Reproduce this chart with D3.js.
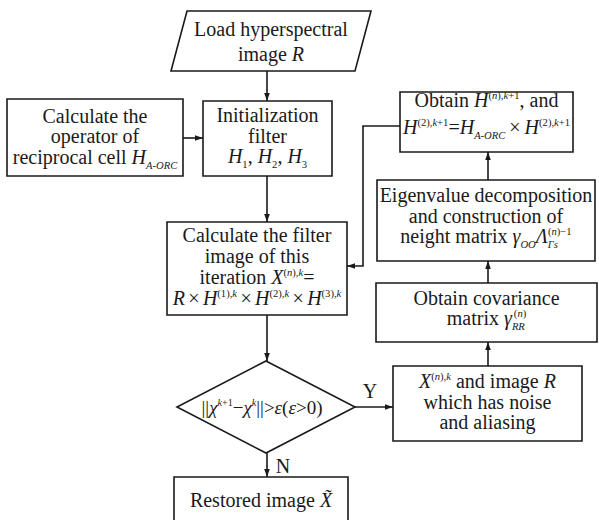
<!DOCTYPE html>
<html><head><meta charset="utf-8">
<script src="https://cdn.jsdelivr.net/npm/d3@7"></script>
<style>body{margin:0;background:#fff}svg{display:block}
text{font-family:"Liberation Serif","Times New Roman","DejaVu Serif",serif;}</style>
</head><body>
<svg id="c" width="599" height="520"></svg>
<script>
// ---- content (text segments: [text, type]; types n,i,^,^i,_,_i ; 3rd item = dx)
const nodeIds = ["load","operator","init","calc","decision","restored","xbox","cov","eigen","obtain"];
const nodeShapes = ["para","rect","rect","rect","diamond","rect","rect","rect","rect","rect"];
const nodeLabels = [
  [[["Load hyperspectral","n"]],[["image ","n"],["R","i"]]],
  [[["Calculate the","n"]],[["operator of","n"]],[["reciprocal cell ","n"],["H","i"],["A-ORC","_i"]]],
  [[["Initialization","n"]],[["filter","n"]],[["H","i"],["1","_"],[", ","n"],["H","i"],["2","_"],[", ","n"],["H","i"],["3","_"]]],
  [[["Calculate the filter","n"]],[["image of this","n"]],
   [["iteration  ","n"],["X","i"],["(","^"],["n","^i"],["),","^"],["k","^i"],["=","n"]],
   [["R","i"],["\u2006×\u2006","n"],["H","i"],["(1),","^"],["k","^i"],["\u2006×\u2006","n"],["H","i"],["(2),","^"],["k","^i"],["\u2006×\u2006","n"],["H","i"],["(3),","^"],["k","^i"]]],
  [[["||","n"],["χ","i"],["k","^i"],["+1","^"],["−","n"],["χ","i"],["k","^i"],["||>","n"],["ε","i"],["(","n"],["ε","i"],[">0)","n"]]],
  [[["Restored image ","n"],["X\u0303","i"]]],
  [[["X","i"],["(","^"],["n","^i"],["),","^"],["k","^i"],[" and image ","n"],["R","i"]],[["which has noise","n"]],[["and aliasing","n"]]],
  [[["Obtain covariance","n"]],[["matrix ","n"],["γ","i"],["RR","_i"],["(","^",-11],["n","^i"],[")","^"]]],
  [[["Eigenvalue decomposition","n"]],[["and construction of","n"]],
   [["neight matrix ","n"],["γ","i"],["OO","_i"],["Λ","i"],["Γs","_i"],["(","^",-10],["n","^i"],[")−1","^"]]],
  [[["Obtain ","n"],["H","i"],["(","^"],["n","^i"],["),","^"],["k","^i"],["+1","^"],[", and","n"]],
   [["H","i"],["(2),","^"],["k","^i"],["+1","^"],["=","n"],["H","i"],["A-ORC","_i"],["\u2009×\u2009","n"],["H","i"],["(2),","^"],["k","^i"],["+1","^"]]]
];
const edgeFrom = ["load","operator","init","calc","decision","decision","xbox","cov","eigen","obtain"];
const edgeTo   = ["init","init","calc","decision","xbox","restored","cov","eigen","obtain","calc"];
const edgeLabels = ["","","","","Y","N","","","",""];

// ---- layout (pixel geometry)
const layout = {
  load:{x0:171,y0:11,x1:371,y1:71,skew:16,base:[36,61]},
  operator:{x0:7,y0:99,x1:183,y1:176,base:[123,143,164]},
  init:{x0:203,y0:101,x1:332,y1:176,base:[122,143,163]},
  calc:{x0:167,y0:222,x1:347,y1:315,base:[242,263,284,305]},
  decision:{x0:177,y0:361,x1:355,y1:453,base:[414],cx:262,fs:19},
  restored:{x0:174,y0:477,x1:348,y1:540,base:[507]},
  xbox:{x0:393,y0:366,x1:582,y1:441,base:[388,409,429]},
  cov:{x0:376,y0:283,x1:597,y1:342,base:[305,325]},
  eigen:{x0:377,y0:180,x1:595,y1:261,base:[202,223,243]},
  obtain:{x0:400,y0:92,x1:573,y1:152,base:[107,134]}
};
const edgeRoutes = {
  "load-init":[[267,71],[267,101]],
  "operator-init":[[183,138],[203,138]],
  "init-calc":[[267,176],[267,222]],
  "calc-decision":[[267,315],[267,361]],
  "decision-xbox":[[355,407],[393,407]],
  "decision-restored":[[267,453],[267,477]],
  "xbox-cov":[[488,366],[488,342]],
  "cov-eigen":[[488,283],[488,261]],
  "eigen-obtain":[[488,180],[488,152]],
  "obtain-calc":[[400,126],[363,126],[363,266],[347,266]]
};
const labelPos = {Y:[370,398],N:[283,473]};

const svg = d3.select("#c");
const ink = "#1a1a1a";

svg.append("defs").append("marker").attr("id","ah")
  .attr("viewBox","0 0 10 10").attr("refX",10).attr("refY",5)
  .attr("markerWidth",8).attr("markerHeight",8).attr("markerUnits","userSpaceOnUse")
  .attr("orient","auto")
  .append("path").attr("d","M0,1.5 L10,5 L0,8.5 Z").attr("fill",ink);

// shapes
const nodes = nodeIds.map((id,i)=>({id,shape:nodeShapes[i],label:nodeLabels[i],...layout[id]}));
const g = svg.append("g");
nodes.forEach(n=>{
  let d;
  if(n.shape==="rect") d=`M${n.x0},${n.y0}H${n.x1}V${n.y1}H${n.x0}Z`;
  else if(n.shape==="para") d=`M${n.x0+n.skew},${n.y0}H${n.x1}L${n.x1-n.skew},${n.y1}H${n.x0}Z`;
  else { const cx=(n.x0+n.x1)/2, cy=(n.y0+n.y1)/2;
    d=`M${cx},${n.y0}L${n.x1},${cy}L${cx},${n.y1}L${n.x0},${cy}Z`; }
  g.append("path").attr("d",d).attr("fill","#fff").attr("stroke",ink).attr("stroke-width",1.6);
});

// edges
const line = d3.line();
edgeFrom.forEach((f,i)=>{
  const pts = edgeRoutes[f+"-"+edgeTo[i]];
  svg.append("path").attr("d",line(pts)).attr("fill","none").attr("stroke",ink)
    .attr("stroke-width",1.6).attr("marker-end","url(#ah)");
  const lab = edgeLabels[i];
  if(lab){ svg.append("text").attr("x",labelPos[lab][0]).attr("y",labelPos[lab][1])
    .attr("text-anchor","middle").attr("font-size",20).attr("fill",ink).text(lab); }
});

// labels
const OFF = {"n":0,"i":0,"^":-8,"^i":-8,"_":5,"_i":5};
nodes.forEach(n=>{
  const cx = n.cx!==undefined ? n.cx : (n.x0+n.x1)/2;
  const fs = n.fs || 20, ss = +(fs*0.53).toFixed(1);
  n.label.forEach((ln,li)=>{
    const t = svg.append("text").attr("x",cx).attr("y",n.base[li])
      .attr("text-anchor","middle").attr("font-size",fs).attr("fill",ink);
    let cur=0;
    ln.forEach(([txt,type,dx])=>{
      const small = type!=="n" && type!=="i";
      const off = OFF[type]*fs/20;
      const ts = t.append("tspan").text(txt)
        .attr("font-size", small?ss:fs)
        .attr("font-style", (type==="i"||type==="^i"||type==="_i")?"italic":"normal")
        .attr("dy", off-cur);
      if(dx) ts.attr("dx",dx);
      cur = off;
    });
  });
});
</script>
</body></html>
